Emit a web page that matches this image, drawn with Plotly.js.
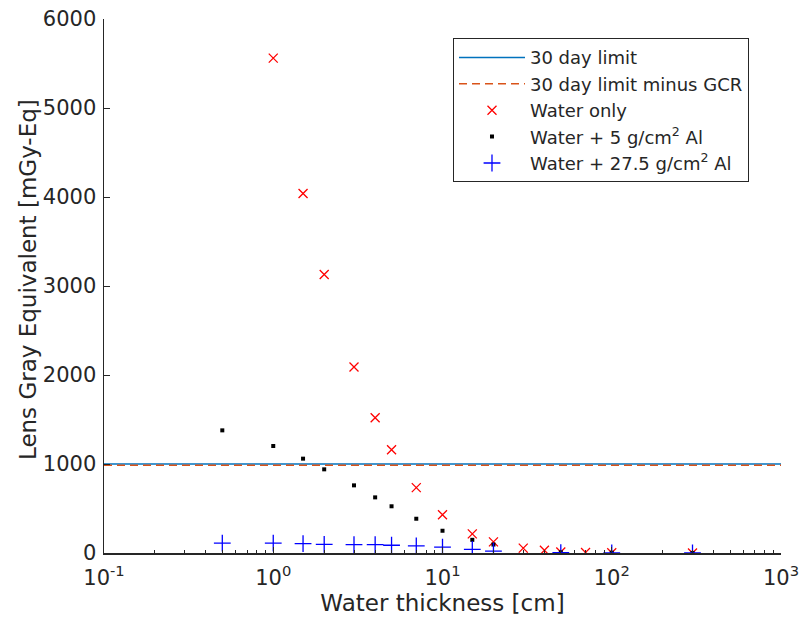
<!DOCTYPE html>
<html>
<head>
<meta charset="utf-8">
<script src="https://cdn.plot.ly/plotly-3.0.1.min.js"></script>
<style>html,body{margin:0;padding:0;background:#fff;}#chart{width:802px;height:624px;}</style>
</head>
<body>
<div id="chart"></div>
<script>
// Limit lines
const limitX = [0.1, 1000];
const limit30 = [1000, 1000];
const limit30GCR = [985, 985];

// Water only
const waterX = [1, 1.5, 2, 3, 4, 5, 7, 10, 15, 20, 30, 40, 50, 70, 100, 300];
const waterY = [5560, 4040, 3130, 2090, 1520, 1160, 735, 430, 215, 125, 55, 30, 12, 6, 3, 0];

// Water + 5 g/cm2 Al
const al5X = [0.5, 1, 1.5, 2, 3, 4, 5, 7, 10, 15, 20, 50, 100, 300];
const al5Y = [1378, 1202, 1060, 940, 760, 625, 525, 385, 250, 148, 95, 8, 3, 0];

// Water + 27.5 g/cm2 Al
const al27X = [0.5, 1, 1.5, 2, 3, 4, 5, 7, 10, 15, 20, 50, 100, 300];
const al27Y = [112, 112, 105, 98, 94, 94, 87, 79, 67, 40, 20, 5, 2, 0];

// Ticks
const xMajor = [0.1, 1, 10, 100, 1000];
const xMajorText = ['10<sup>-1</sup>', '10<sup>0</sup>', '10<sup>1</sup>', '10<sup>2</sup>', '10<sup>3</sup>'];
const xMinor = [0.2,0.3,0.4,0.5,0.6,0.7,0.8,0.9, 2,3,4,5,6,7,8,9, 20,30,40,50,60,70,80,90, 200,300,400,500,600,700,800,900];
const yTicks = [0, 1000, 2000, 3000, 4000, 5000, 6000];

const axisColor = '#262626';
const traces = [
  {x: limitX, y: limit30, mode: 'lines', name: '30 day limit', line: {color: '#0072BD', width: 1.5}},
  {x: limitX, y: limit30GCR, mode: 'lines', name: '30 day limit minus GCR', line: {color: '#D95319', width: 1.5, dash: '8px,5px'}},
  {x: waterX, y: waterY, mode: 'markers', name: 'Water only',
   marker: {symbol: 'x-thin-open', size: 9, color: '#FF0000', line: {color: '#FF0000', width: 1.3}}},
  {x: al5X, y: al5Y, mode: 'markers', name: 'Water + 5 g/cm<sup>2</sup> Al',
   marker: {symbol: 'square', size: 4, color: '#000000', line: {width: 0}}},
  {x: al27X, y: al27Y, mode: 'markers', name: 'Water + 27.5 g/cm<sup>2</sup> Al',
   marker: {symbol: 'cross-thin-open', size: 12, color: '#0000FF', line: {color: '#0000FF', width: 1.3}}}
];

const layout = {
  width: 802, height: 624,
  margin: {l: 104, r: 21, t: 19, b: 71, pad: 0},
  paper_bgcolor: '#fff', plot_bgcolor: '#fff',
  font: {family: 'DejaVu Sans, sans-serif', color: axisColor, size: 21},
  showlegend: true,
  xaxis: {
    type: 'log', range: [-1, 3], showgrid: false, zeroline: false,
    showline: true, linecolor: axisColor, linewidth: 1.5, mirror: false,
    tickmode: 'array', tickvals: xMajor, ticktext: xMajorText,
    ticks: 'inside', ticklen: 6, tickwidth: 1, tickcolor: axisColor,
    tickfont: {size: 21, color: axisColor}, ticklabelstandoff: 5,
    minor: {tickmode: 'array', tickvals: xMinor, ticks: 'inside', ticklen: 3, tickwidth: 1, tickcolor: axisColor, showgrid: false},
    title: {text: 'Water thickness [cm]', font: {size: 23, color: axisColor}, standoff: 4}
  },
  yaxis: {
    range: [0, 6000], showgrid: false, zeroline: false,
    showline: true, linecolor: axisColor, linewidth: 1.5, mirror: false,
    tickmode: 'array', tickvals: yTicks,
    ticks: 'inside', ticklen: 6, tickwidth: 1, tickcolor: axisColor,
    tickfont: {size: 21, color: axisColor}, ticklabelstandoff: 2
  },
  annotations: [{
    text: 'Lens Gray Equivalent [mGy-Eq]', xref: 'paper', yref: 'paper',
    x: -0.1123, y: 0.513, xanchor: 'center', yanchor: 'middle', textangle: -90,
    showarrow: false, font: {size: 23, color: axisColor}
  }],
  legend: {
    x: 0.5155, y: 0.964, xanchor: 'left', yanchor: 'top',
    bgcolor: '#fff', bordercolor: axisColor, borderwidth: 1,
    font: {size: 18, color: axisColor}, itemwidth: 66, tracegroupgap: 0
  }
};

Plotly.newPlot('chart', traces, layout, {displayModeBar: false, staticPlot: true});
</script>
</body>
</html>
